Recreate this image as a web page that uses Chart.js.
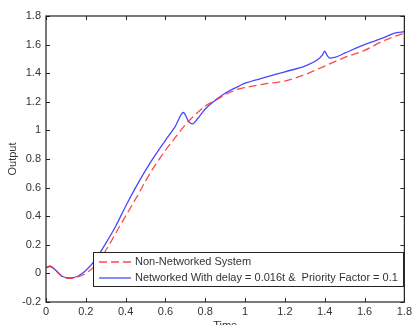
<!DOCTYPE html>
<html>
<head>
<meta charset="utf-8">
<script src="https://cdn.jsdelivr.net/npm/chart.js@4/dist/chart.umd.min.js"></script>
<style>
  html, body { margin: 0; padding: 0; background: #fff; overflow: hidden; }
  #wrap { width: 415px; height: 333px; position: relative; }
</style>
</head>
<body>
<div id="wrap"><canvas id="c"></canvas></div>
<script>
// --- data ---
const timeRed = [0, 0.02, 0.05, 0.08, 0.12, 0.16, 0.2, 0.25, 0.3, 0.37, 0.45, 0.51, 0.55, 0.6, 0.66, 0.7, 0.75, 0.8, 0.85, 0.9, 0.97, 1.0, 1.1, 1.2, 1.3, 1.4, 1.5, 1.6, 1.7, 1.8];
const redValues = [0.04, 0.05, 0.02, -0.02, -0.035, -0.025, 0.0, 0.06, 0.16, 0.33, 0.52, 0.67, 0.76, 0.86, 0.97, 1.04, 1.11, 1.17, 1.21, 1.25, 1.29, 1.30, 1.325, 1.345, 1.39, 1.45, 1.51, 1.56, 1.63, 1.68];

const timeBlue = [0, 0.02, 0.05, 0.08, 0.12, 0.16, 0.2, 0.25, 0.3, 0.35, 0.4, 0.45, 0.5, 0.55, 0.6, 0.65, 0.69, 0.715, 0.735, 0.76, 0.8, 0.85, 0.9, 0.97, 1.0, 1.1, 1.2, 1.3, 1.36, 1.39, 1.4, 1.41, 1.425, 1.45, 1.5, 1.6, 1.7, 1.75, 1.8];
const blueValues = [0.04, 0.05, 0.02, -0.02, -0.032, -0.02, 0.02, 0.10, 0.21, 0.33, 0.47, 0.60, 0.72, 0.83, 0.93, 1.03, 1.125, 1.065, 1.045, 1.08, 1.15, 1.21, 1.26, 1.31, 1.33, 1.37, 1.41, 1.45, 1.49, 1.53, 1.555, 1.53, 1.505, 1.51, 1.54, 1.60, 1.65, 1.68, 1.69];

const seriesLabels = ['Non-Networked System', 'Networked With delay = 0.016t &  Priority Factor = 0.1'];
const xTicks = [0, 0.2, 0.4, 0.6, 0.8, 1, 1.2, 1.4, 1.6, 1.8];
const yTicks = [-0.2, 0, 0.2, 0.4, 0.6, 0.8, 1, 1.2, 1.4, 1.6, 1.8];

const FONT = 'Arial, "Liberation Sans", sans-serif';
const TXT = '#333';

const toPoints = (xs, ys) => xs.map((x, i) => ({ x: x, y: ys[i] }));

// inward MATLAB-style tick marks on all four sides
const innerTicks = {
  id: 'innerTicks',
  afterDatasetsDraw(chart) {
    const { ctx, chartArea: a, scales } = chart;
    ctx.save();
    ctx.strokeStyle = '#222';
    ctx.lineWidth = 1;
    ctx.beginPath();
    xTicks.forEach(v => {
      const px = Math.round(scales.x.getPixelForValue(v)) + 0.5;
      ctx.moveTo(px, a.bottom); ctx.lineTo(px, a.bottom - 4);
      ctx.moveTo(px, a.top); ctx.lineTo(px, a.top + 4);
    });
    yTicks.forEach(v => {
      const py = Math.round(scales.y.getPixelForValue(v)) + 0.5;
      ctx.moveTo(a.left, py); ctx.lineTo(a.left + 4, py);
      ctx.moveTo(a.right, py); ctx.lineTo(a.right - 4, py);
    });
    ctx.stroke();
    ctx.lineWidth = 1.2;
    ctx.strokeRect(a.left, a.top, a.right - a.left, a.bottom - a.top);
    ctx.restore();
  }
};

// boxed legend inside the axes, lower right
const boxLegend = {
  id: 'boxLegend',
  afterDraw(chart) {
    const { ctx } = chart;
    const x0 = 93, y0 = 252, w = 310, h = 34;
    ctx.save();
    ctx.fillStyle = '#fff';
    ctx.fillRect(x0, y0, w, h);
    ctx.strokeStyle = '#222';
    ctx.lineWidth = 1;
    ctx.strokeRect(x0 + 0.5, y0 + 0.5, w, h);
    ctx.font = '11px ' + FONT;
    ctx.textBaseline = 'middle';
    chart.data.datasets.forEach((ds, i) => {
      const y = y0 + 10 + i * 16;
      ctx.strokeStyle = ds.borderColor;
      ctx.lineWidth = ds.borderWidth;
      ctx.setLineDash(ds.borderDash || []);
      ctx.beginPath();
      ctx.moveTo(x0 + 6, y); ctx.lineTo(x0 + 38, y);
      ctx.stroke();
      ctx.setLineDash([]);
      ctx.fillStyle = TXT;
      ctx.fillText(ds.label, x0 + 42, y);
    });
    ctx.restore();
  }
};

new Chart(document.getElementById('c'), {
  type: 'line',
  data: {
    datasets: [
      {
        label: seriesLabels[0],
        data: toPoints(timeRed, redValues),
        borderColor: 'rgba(255,40,40,0.85)',
        borderWidth: 1.3,
        borderDash: [8, 4],
        pointRadius: 0,
        cubicInterpolationMode: 'monotone',
        fill: false
      },
      {
        label: seriesLabels[1],
        data: toPoints(timeBlue, blueValues),
        borderColor: 'rgba(40,40,255,0.85)',
        borderWidth: 1.3,
        pointRadius: 0,
        cubicInterpolationMode: 'monotone',
        fill: false
      }
    ]
  },
  options: {
    animation: false,
    responsive: true,
    maintainAspectRatio: false,
    layout: { padding: { top: 16, right: 9, left: 0, bottom: 0 } },
    plugins: { legend: { display: false }, tooltip: { enabled: false } },
    scales: {
      x: {
        type: 'linear',
        min: 0, max: 1.8,
        afterBuildTicks: s => { s.ticks = xTicks.map(v => ({ value: v })); },
        afterFit: s => { s.height = 31; },
        grid: { display: false, drawTicks: false },
        border: { display: false },
        ticks: {
          padding: 3,
          color: TXT,
          font: { family: FONT, size: 11 },
          maxRotation: 0,
          callback: v => String(v)
        },
        title: { display: true, text: 'Time', color: TXT, font: { family: FONT, size: 11 }, padding: { top: 0, bottom: 0 } }
      },
      y: {
        type: 'linear',
        min: -0.2, max: 1.8,
        afterBuildTicks: s => { s.ticks = yTicks.map(v => ({ value: v })); },
        afterFit: s => { s.width = 46; },
        grid: { display: false, drawTicks: false },
        border: { display: false },
        ticks: {
          padding: 5,
          color: TXT,
          font: { family: FONT, size: 11 },
          callback: v => String(Math.round(v * 10) / 10)
        },
        title: { display: true, text: 'Output', color: TXT, font: { family: FONT, size: 11 }, padding: { top: 6, bottom: 0 } }
      }
    }
  },
  plugins: [innerTicks, boxLegend]
});
</script>
</body>
</html>
